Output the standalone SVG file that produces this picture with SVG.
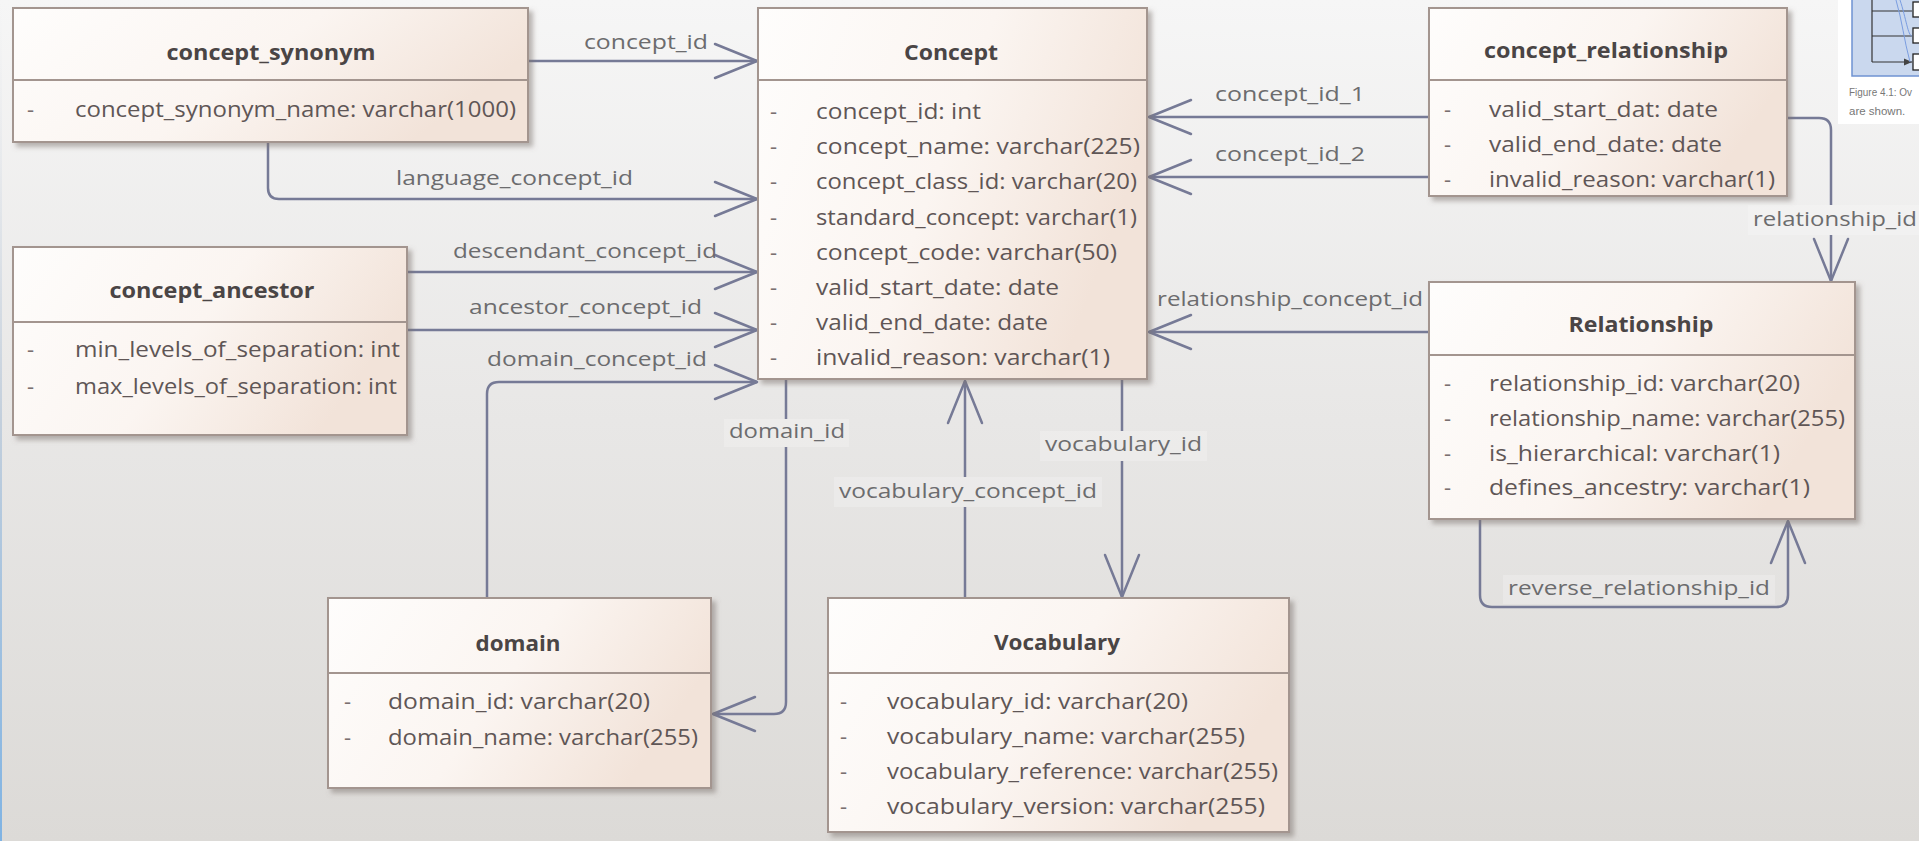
<svg xmlns="http://www.w3.org/2000/svg" width="1919" height="841" viewBox="0 0 1919 841">
  <defs>
    <linearGradient id="bg" x1="0" y1="0" x2="0" y2="841" gradientUnits="userSpaceOnUse">
      <stop offset="0" stop-color="#f6f6f6"/>
      <stop offset="0.5" stop-color="#e8e7e6"/>
      <stop offset="1" stop-color="#dcdad7"/>
    </linearGradient>
    <linearGradient id="boxFill" x1="0" y1="0" x2="1" y2="0.35">
      <stop offset="0" stop-color="#fefdfc"/>
      <stop offset="0.55" stop-color="#fbf5f1"/>
      <stop offset="1" stop-color="#f2e3d9"/>
    </linearGradient>
    <linearGradient id="edge" x1="0" y1="0" x2="0" y2="841" gradientUnits="userSpaceOnUse">
      <stop offset="0" stop-color="#e6e9ee" stop-opacity="0"/>
      <stop offset="0.5" stop-color="#c3cfdc"/>
      <stop offset="1" stop-color="#7fb3e3"/>
    </linearGradient>
    <filter id="shadow" x="-5%" y="-5%" width="115%" height="120%">
      <feDropShadow dx="4" dy="4" stdDeviation="2.5" flood-color="#7a706c" flood-opacity="0.5"/>
    </filter>
    <marker id="open" viewBox="-46 -20 50 40" markerWidth="50" markerHeight="40" refX="0" refY="0" orient="auto" markerUnits="userSpaceOnUse">
      <path d="M-42 -17 L0 0 L-42 17" fill="none" stroke="#767a96" stroke-width="2.5" stroke-linecap="round" stroke-linejoin="round"/>
    </marker>
    <marker id="tiny" viewBox="0 -4 8 8" markerWidth="8" markerHeight="8" refX="8" refY="0" orient="auto" markerUnits="userSpaceOnUse">
      <path d="M0 -3.5 L8 0 L0 3.5 Z" fill="#444"/>
    </marker>
  </defs>
  <style>
    .box { fill: url(#boxFill); stroke: #a3958f; stroke-width: 2; filter: url(#shadow); }
    .div { stroke: #a3958f; stroke-width: 2; }
    .title { font-family: "Open Sans", "Noto Sans", "Liberation Sans", sans-serif; font-weight: bold; font-size: 22px; fill: #4a4545; text-anchor: middle; }
    .row { font-family: "Open Sans", "Noto Sans", "Liberation Sans", sans-serif; font-size: 22px; fill: #5f5656; }
    .dash { font-family: "Open Sans", "Liberation Sans", sans-serif; font-size: 22px; fill: #7a7070; }
    .lbl { font-family: "Open Sans", "Noto Sans", "Liberation Sans", sans-serif; font-size: 20px; fill: #6c6c6e; }
    .conn { fill: none; stroke: #767a96; stroke-width: 2.5; }
    .lblbg { fill: #ffffff; fill-opacity: 0.22; }
  </style>

  <!-- page background -->
  <rect x="0" y="0" width="1919" height="841" fill="url(#bg)"/>
  <rect x="0" y="0" width="2" height="841" fill="url(#edge)"/>

  <!-- neighbouring figure thumbnail, top right -->
  <g id="thumbnail">
    <rect x="1838" y="0" width="81" height="124" fill="#ffffff"/>
    <rect x="1852" y="-2" width="70" height="78" fill="#cad8ee" stroke="#6f93d2" stroke-width="1.5"/>
    <path d="M1872 0 V62" stroke="#333" stroke-width="1.2" fill="none"/>
    <path d="M1872 11 H1912 M1872 36 H1912 M1872 62 H1912" stroke="#333" stroke-width="1.2" fill="none" marker-end="url(#tiny)"/>
    <path d="M1896 0 C1902 20 1904 40 1910 62 M1900 0 C1906 18 1908 36 1912 36" stroke="#7a9de0" stroke-width="1" fill="none"/>
    <rect x="1913" y="2" width="12" height="15" fill="#fff" stroke="#222" stroke-width="1.3"/>
    <rect x="1913" y="28" width="12" height="15" fill="#fff" stroke="#222" stroke-width="1.3"/>
    <rect x="1913" y="54" width="12" height="16" fill="#fff" stroke="#222" stroke-width="1.3"/>
    <text x="1849" y="96" font-family="Liberation Sans, Arial, sans-serif" font-size="11.5" fill="#777" textLength="63" lengthAdjust="spacingAndGlyphs">Figure 4.1: Ov</text>
    <text x="1849" y="115" font-family="Liberation Sans, Arial, sans-serif" font-size="11.5" fill="#777">are shown.</text>
  </g>

  <!-- relations between tables -->
  <g id="connectors">
    <path class="conn" d="M528 61 H757" marker-end="url(#open)"/>
    <path class="conn" d="M268 142 V188 Q268 199 279 199 H757" marker-end="url(#open)"/>
    <path class="conn" d="M407 272 H757" marker-end="url(#open)"/>
    <path class="conn" d="M407 330 H757" marker-end="url(#open)"/>
    <path class="conn" d="M487 598 V394 Q487 382 499 382 H757" marker-end="url(#open)"/>
    <path class="conn" d="M1429 117 H1149" marker-end="url(#open)"/>
    <path class="conn" d="M1429 177 H1149" marker-end="url(#open)"/>
    <path class="conn" d="M1429 332 H1149" marker-end="url(#open)"/>
    <path class="conn" d="M786 379 V702 Q786 714 774 714 H713" marker-end="url(#open)"/>
    <path class="conn" d="M965 598 V381" marker-end="url(#open)"/>
    <path class="conn" d="M1122 379 V597" marker-end="url(#open)"/>
    <path class="conn" d="M1787 118 H1819 Q1831 118 1831 130 V281" marker-end="url(#open)"/>
    <path class="conn" d="M1480 519 V595 Q1480 607 1492 607 H1776 Q1788 607 1788 595 V521" marker-end="url(#open)"/>

    <!-- label backgrounds for labels sitting on a line -->
    <rect x="724" y="419" width="125" height="28" fill="url(#bg)"/>
    <rect x="724" y="419" width="125" height="28" class="lblbg"/>
    <rect x="834" y="477" width="268" height="30" fill="url(#bg)"/>
    <rect x="834" y="477" width="268" height="30" class="lblbg"/>
    <rect x="1040" y="431" width="167" height="30" fill="url(#bg)"/>
    <rect x="1040" y="431" width="167" height="30" class="lblbg"/>
    <rect x="1748" y="205" width="171" height="30" fill="url(#bg)"/>
    <rect x="1748" y="205" width="171" height="30" class="lblbg"/>
    <rect x="1503" y="575" width="272" height="29" class="lblbg"/>

    <text class="lbl" x="584" y="49" textLength="124" lengthAdjust="spacingAndGlyphs">concept_id</text>
    <text class="lbl" x="396" y="185" textLength="237" lengthAdjust="spacingAndGlyphs">language_concept_id</text>
    <text class="lbl" x="453" y="258" textLength="264" lengthAdjust="spacingAndGlyphs">descendant_concept_id</text>
    <text class="lbl" x="469" y="314" textLength="233" lengthAdjust="spacingAndGlyphs">ancestor_concept_id</text>
    <text class="lbl" x="487" y="366" textLength="220" lengthAdjust="spacingAndGlyphs">domain_concept_id</text>
    <text class="lbl" x="1215" y="101" textLength="150" lengthAdjust="spacingAndGlyphs">concept_id_1</text>
    <text class="lbl" x="1215" y="161" textLength="150" lengthAdjust="spacingAndGlyphs">concept_id_2</text>
    <text class="lbl" x="1157" y="306" textLength="266" lengthAdjust="spacingAndGlyphs">relationship_concept_id</text>
    <text class="lbl" x="729" y="438" textLength="116" lengthAdjust="spacingAndGlyphs">domain_id</text>
    <text class="lbl" x="839" y="498" textLength="258" lengthAdjust="spacingAndGlyphs">vocabulary_concept_id</text>
    <text class="lbl" x="1045" y="451" textLength="157" lengthAdjust="spacingAndGlyphs">vocabulary_id</text>
    <text class="lbl" x="1753" y="226" textLength="164" lengthAdjust="spacingAndGlyphs">relationship_id</text>
    <text class="lbl" x="1508" y="595" textLength="262" lengthAdjust="spacingAndGlyphs">reverse_relationship_id</text>
  </g>

  <g id="concept_synonym">
    <rect class="box" x="13" y="8" width="515" height="134"/>
    <line class="div" x1="13" y1="80" x2="528" y2="80"/>
    <text class="title" x="271" y="60" textLength="209" lengthAdjust="spacingAndGlyphs">concept_synonym</text>
    <text class="dash" x="27" y="117">-</text>
    <text class="row" x="75" y="117" textLength="441" lengthAdjust="spacingAndGlyphs">concept_synonym_name: varchar(1000)</text>
  </g>

  <g id="concept">
    <rect class="box" x="758" y="8" width="389" height="371"/>
    <line class="div" x1="758" y1="80" x2="1147" y2="80"/>
    <text class="title" x="951" y="60" textLength="94" lengthAdjust="spacingAndGlyphs">Concept</text>
    <g class="dash">
      <text x="770" y="119">-</text><text x="770" y="154">-</text><text x="770" y="189">-</text><text x="770" y="225">-</text>
      <text x="770" y="260">-</text><text x="770" y="295">-</text><text x="770" y="330">-</text><text x="770" y="365">-</text>
    </g>
    <text class="row" x="816" y="119" textLength="165" lengthAdjust="spacingAndGlyphs">concept_id: int</text>
    <text class="row" x="816" y="154" textLength="324" lengthAdjust="spacingAndGlyphs">concept_name: varchar(225)</text>
    <text class="row" x="816" y="189" textLength="321" lengthAdjust="spacingAndGlyphs">concept_class_id: varchar(20)</text>
    <text class="row" x="816" y="225" textLength="321" lengthAdjust="spacingAndGlyphs">standard_concept: varchar(1)</text>
    <text class="row" x="816" y="260" textLength="301" lengthAdjust="spacingAndGlyphs">concept_code: varchar(50)</text>
    <text class="row" x="816" y="295" textLength="243" lengthAdjust="spacingAndGlyphs">valid_start_date: date</text>
    <text class="row" x="816" y="330" textLength="232" lengthAdjust="spacingAndGlyphs">valid_end_date: date</text>
    <text class="row" x="816" y="365" textLength="294" lengthAdjust="spacingAndGlyphs">invalid_reason: varchar(1)</text>
  </g>

  <g id="concept_relationship">
    <rect class="box" x="1429" y="8" width="358" height="188"/>
    <line class="div" x1="1429" y1="80" x2="1787" y2="80"/>
    <text class="title" x="1606" y="58" textLength="244" lengthAdjust="spacingAndGlyphs">concept_relationship</text>
    <g class="dash">
      <text x="1444" y="117">-</text><text x="1444" y="152">-</text><text x="1444" y="187">-</text>
    </g>
    <text class="row" x="1489" y="117" textLength="229" lengthAdjust="spacingAndGlyphs">valid_start_dat: date</text>
    <text class="row" x="1489" y="152" textLength="233" lengthAdjust="spacingAndGlyphs">valid_end_date: date</text>
    <text class="row" x="1489" y="187" textLength="286" lengthAdjust="spacingAndGlyphs">invalid_reason: varchar(1)</text>
  </g>

  <g id="relationship">
    <rect class="box" x="1429" y="282" width="426" height="237"/>
    <line class="div" x1="1429" y1="355" x2="1855" y2="355"/>
    <text class="title" x="1641" y="332" textLength="145" lengthAdjust="spacingAndGlyphs">Relationship</text>
    <g class="dash">
      <text x="1444" y="391">-</text><text x="1444" y="426">-</text><text x="1444" y="461">-</text><text x="1444" y="495">-</text>
    </g>
    <text class="row" x="1489" y="391" textLength="311" lengthAdjust="spacingAndGlyphs">relationship_id: varchar(20)</text>
    <text class="row" x="1489" y="426" textLength="356" lengthAdjust="spacingAndGlyphs">relationship_name: varchar(255)</text>
    <text class="row" x="1489" y="461" textLength="291" lengthAdjust="spacingAndGlyphs">is_hierarchical: varchar(1)</text>
    <text class="row" x="1489" y="495" textLength="321" lengthAdjust="spacingAndGlyphs">defines_ancestry: varchar(1)</text>
  </g>

  <g id="concept_ancestor">
    <rect class="box" x="13" y="247" width="394" height="188"/>
    <line class="div" x1="13" y1="322" x2="407" y2="322"/>
    <text class="title" x="212" y="298" textLength="205" lengthAdjust="spacingAndGlyphs">concept_ancestor</text>
    <g class="dash">
      <text x="27" y="357">-</text><text x="27" y="394">-</text>
    </g>
    <text class="row" x="75" y="357" textLength="325" lengthAdjust="spacingAndGlyphs">min_levels_of_separation: int</text>
    <text class="row" x="75" y="394" textLength="322" lengthAdjust="spacingAndGlyphs">max_levels_of_separation: int</text>
  </g>

  <g id="domain">
    <rect class="box" x="328" y="598" width="383" height="190"/>
    <line class="div" x1="328" y1="673" x2="711" y2="673"/>
    <text class="title" x="518" y="651" textLength="85" lengthAdjust="spacingAndGlyphs">domain</text>
    <g class="dash">
      <text x="344" y="709">-</text><text x="344" y="745">-</text>
    </g>
    <text class="row" x="388" y="709" textLength="262" lengthAdjust="spacingAndGlyphs">domain_id: varchar(20)</text>
    <text class="row" x="388" y="745" textLength="310" lengthAdjust="spacingAndGlyphs">domain_name: varchar(255)</text>
  </g>

  <g id="vocabulary">
    <rect class="box" x="828" y="598" width="461" height="234"/>
    <line class="div" x1="828" y1="673" x2="1289" y2="673"/>
    <text class="title" x="1057" y="650" textLength="126" lengthAdjust="spacingAndGlyphs">Vocabulary</text>
    <g class="dash">
      <text x="840" y="709">-</text><text x="840" y="744">-</text><text x="840" y="779">-</text><text x="840" y="814">-</text>
    </g>
    <text class="row" x="887" y="709" textLength="301" lengthAdjust="spacingAndGlyphs">vocabulary_id: varchar(20)</text>
    <text class="row" x="887" y="744" textLength="358" lengthAdjust="spacingAndGlyphs">vocabulary_name: varchar(255)</text>
    <text class="row" x="887" y="779" textLength="391" lengthAdjust="spacingAndGlyphs">vocabulary_reference: varchar(255)</text>
    <text class="row" x="887" y="814" textLength="378" lengthAdjust="spacingAndGlyphs">vocabulary_version: varchar(255)</text>
  </g>
</svg>
